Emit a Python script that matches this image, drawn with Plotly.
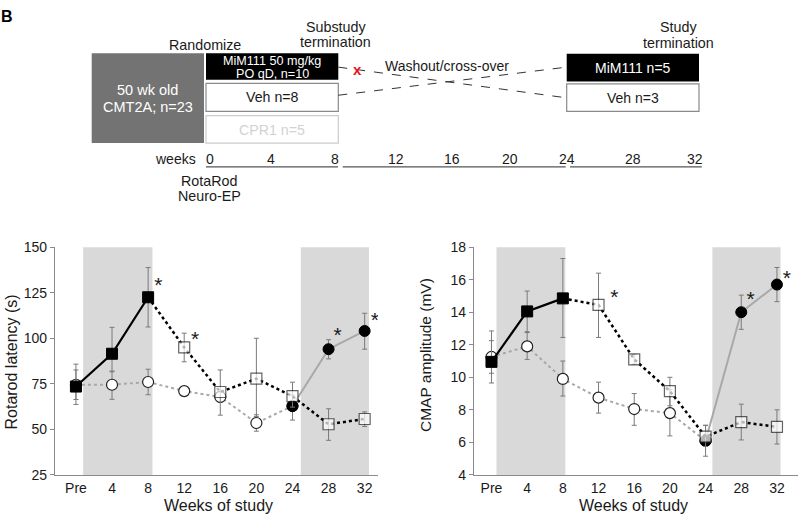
import plotly.graph_objects as go

# ---------------- data ----------------
weeks_labels = ["Pre", "4", "8", "12", "16", "20", "24", "28", "32"]
week_pos = list(range(len(weeks_labels)))

# Rotarod latency (s)
rr_mim_x = [0, 1, 2]
rr_mim_y = [73.5, 91.5, 122.5]
rr_mim_up = [12.3, 14.5, 16.3]
rr_mim_dn = [9.8, 9.9, 16.3]

rr_sq_x = [2, 3, 4, 5, 6, 7, 8]
rr_sq_y = [122.5, 95.0, 70.5, 77.8, 68.2, 52.8, 55.7]
rr_sq_up = [0, 7.8, 12.1, 22.2, 7.7, 8.5, 3.9]
rr_sq_dn = [0, 7.9, 12.7, 20.8, 6.0, 8.8, 4.1]

rr_circ_x = [0, 1, 2, 3, 4, 5, 6]
rr_circ_y = [74.5, 74.5, 76.0, 71.0, 67.8, 53.5, 62.8]
rr_circ_up = [8.1, 7.5, 7.0, 1.5, 3.0, 4.5, 6.0]
rr_circ_dn = [8.1, 8.0, 7.0, 1.5, 3.0, 4.5, 7.7]

rr_fill_x = [6, 7, 8]
rr_fill_y = [62.8, 94.0, 104.0]
rr_fill_up = [0, 5.2, 9.7]
rr_fill_dn = [0, 5.3, 10.0]

# CMAP amplitude (mV)
cm_mim_x = [0, 1, 2]
cm_mim_y = [10.95, 14.05, 14.85]
cm_mim_up = [1.9, 1.25, 2.45]
cm_mim_dn = [1.3, 1.3, 2.4]

cm_sq_x = [2, 3, 4, 5, 6, 7, 8]
cm_sq_y = [14.85, 14.45, 11.1, 9.15, 6.35, 7.25, 6.95]
cm_sq_up = [0, 1.95, 0.3, 0.85, 0.7, 1.1, 1.05]
cm_sq_dn = [0, 2.0, 0.3, 0.9, 0.6, 1.1, 1.05]

cm_circ_x = [0, 1, 2, 3, 4, 5, 6]
cm_circ_y = [11.25, 11.9, 9.9, 8.75, 8.05, 7.8, 6.1]
cm_circ_up = [1.0, 0.9, 1.1, 0.95, 0.95, 1.45, 0.95]
cm_circ_dn = [1.0, 0.8, 1.05, 0.95, 1.0, 1.4, 0.95]

cm_fill_x = [6, 7, 8]
cm_fill_y = [6.1, 14.0, 15.7]
cm_fill_up = [0, 1.05, 1.05]
cm_fill_dn = [0, 1.05, 1.05]

# significance markers (week index, value)
rr_star_x = [2.28, 3.3, 7.25, 8.28]
rr_star_y = [128.5, 98.5, 101.0, 109.0]
cm_star_x = [3.44, 7.26, 8.28]
cm_star_y = [14.85, 14.7, 16.0]

# dosing windows (week index ranges)
rr_shade = [(0.2, 2.12), (6.23, 8.12)]
cm_shade = [(0.14, 2.07), (6.19, 8.1)]

FONT = "Arial, Liberation Sans, sans-serif"
TXT = "#1a1a1a"
ERR = "#7a7a7a"
GRAYLINE = "#a8a8a8"
MS = 11

W, H = 800, 522


def X(px):
    return px / W


def Y(py):
    return 1 - py / H


fig = go.Figure()


def err(up, dn):
    return dict(type="data", symmetric=False, array=up, arrayminus=dn,
                color=ERR, thickness=1, width=2.5)


def add_panel(xa, ya, circ_x, circ_y, circ_up, circ_dn,
              fill_x, fill_y, fill_up, fill_dn,
              sq_x, sq_y, sq_up, sq_dn,
              mim_x, mim_y, mim_up, mim_dn):
    # vehicle (open circles, grey dotted); last point filled (cross-over start)
    fig.add_trace(go.Scatter(
        x=circ_x, y=circ_y, mode="lines+markers", xaxis=xa, yaxis=ya,
        line=dict(color=GRAYLINE, width=2, dash="dot"),
        marker=dict(symbol="circle", size=MS,
                    color=["white"] * (len(circ_x) - 1) + ["black"],
                    line=dict(color="#222", width=1.2)),
        error_y=err(circ_up, circ_dn), showlegend=False))
    # cross-over to MiM111 (filled circles, grey solid)
    fig.add_trace(go.Scatter(
        x=fill_x, y=fill_y, mode="lines+markers", xaxis=xa, yaxis=ya,
        line=dict(color=GRAYLINE, width=2),
        marker=dict(symbol="circle", size=MS, color="black",
                    line=dict(color="black", width=1)),
        error_y=err(fill_up, fill_dn), showlegend=False))
    # washout / vehicle (open squares, black dotted)
    fig.add_trace(go.Scatter(
        x=sq_x, y=sq_y, mode="lines+markers", xaxis=xa, yaxis=ya,
        line=dict(color="black", width=2.5, dash="dot"),
        marker=dict(symbol="square", size=[0] + [MS] * (len(sq_x) - 1),
                    color="white", line=dict(color="#222", width=1.2)),
        error_y=err(sq_up, sq_dn), showlegend=False))
    # MiM111 treatment (filled squares, black solid)
    fig.add_trace(go.Scatter(
        x=mim_x, y=mim_y, mode="lines+markers", xaxis=xa, yaxis=ya,
        line=dict(color="black", width=2.2),
        marker=dict(symbol="square", size=MS, color="black",
                    line=dict(color="black", width=1)),
        error_y=err(mim_up, mim_dn), showlegend=False))


add_panel("x", "y", rr_circ_x, rr_circ_y, rr_circ_up, rr_circ_dn,
          rr_fill_x, rr_fill_y, rr_fill_up, rr_fill_dn,
          rr_sq_x, rr_sq_y, rr_sq_up, rr_sq_dn,
          rr_mim_x, rr_mim_y, rr_mim_up, rr_mim_dn)
add_panel("x2", "y2", cm_circ_x, cm_circ_y, cm_circ_up, cm_circ_dn,
          cm_fill_x, cm_fill_y, cm_fill_up, cm_fill_dn,
          cm_sq_x, cm_sq_y, cm_sq_up, cm_sq_dn,
          cm_mim_x, cm_mim_y, cm_mim_up, cm_mim_dn)

# stars
fig.add_trace(go.Scatter(x=rr_star_x, y=rr_star_y, mode="text", text=["*"] * len(rr_star_x),
                         textfont=dict(size=21, color=TXT, family=FONT),
                         xaxis="x", yaxis="y", showlegend=False, hoverinfo="skip"))
fig.add_trace(go.Scatter(x=cm_star_x, y=cm_star_y, mode="text", text=["*"] * len(cm_star_x),
                         textfont=dict(size=21, color=TXT, family=FONT),
                         xaxis="x2", yaxis="y2", showlegend=False, hoverinfo="skip"))

shapes = []
for (a, b) in rr_shade:
    shapes.append(dict(type="rect", xref="x", yref="y domain", x0=a, x1=b, y0=0, y1=1,
                       fillcolor="#d9d9d9", line=dict(width=0), layer="below"))
for (a, b) in cm_shade:
    shapes.append(dict(type="rect", xref="x2", yref="y2 domain", x0=a, x1=b, y0=0, y1=1,
                       fillcolor="#d9d9d9", line=dict(width=0), layer="below"))


# ---------------- study design schematic ----------------
def rect(x0, y0, x1, y1, fill, line_color=None, lw=1):
    shapes.append(dict(type="rect", xref="paper", yref="paper",
                       x0=X(x0), x1=X(x1), y0=Y(y1), y1=Y(y0), fillcolor=fill,
                       line=dict(color=line_color or fill, width=lw if line_color else 0)))


def seg(x0, y0, x1, y1, color, dash="solid", lw=1):
    shapes.append(dict(type="line", xref="paper", yref="paper",
                       x0=X(x0), x1=X(x1), y0=Y(y0), y1=Y(y1),
                       line=dict(color=color, width=lw, dash=dash)))


rect(91.7, 46.7, 204, 139.3, "#737373")
rect(206, 46.7, 338.3, 74, "black")
rect(206, 77.7, 338.3, 106.7, "white", "#8a8a8a", 1.2)
rect(206, 111, 338.3, 139.3, "white", "#cccccc", 1.2)
rect(566.7, 47.3, 699, 75.7, "black")
rect(566.7, 78.3, 699, 106.7, "white", "#8a8a8a", 1.2)
seg(338.3, 61, 566.7, 92.7, "#333", "dash", 1)
seg(338.3, 90, 566.7, 61, "#333", "dash", 1)
seg(206, 164, 338, 164, "#555", lw=1.3)
seg(342.7, 164, 565.7, 164, "#555", lw=1.3)
seg(570, 164, 701.7, 164, "#555", lw=1.3)

annotations = []


def txt(x, y, s, size=14, color=TXT, xanchor="center", bold=False, angle=0):
    annotations.append(dict(x=X(x), y=Y(y), xref="paper", yref="paper", text=s,
                            showarrow=False, xanchor=xanchor, yanchor="middle",
                            textangle=angle,
                            font=dict(family=FONT, size=size, color=color,
                                      weight="bold" if bold else "normal")))


txt(7, 9, "B", size=16, color="black", bold=True)
txt(205, 38, "Randomize", 14.3)
txt(335.5, 20, "Substudy", 14.3)
txt(335.5, 35.5, "termination", 14.3)
txt(678.3, 20, "Study", 14.3)
txt(678.3, 35.7, "termination", 14.3)
txt(147.8, 85, "50 wk old", 14.5, color="white")
txt(147.8, 101.7, "CMT2A; n=23", 14.5, color="white")
txt(272, 54.3, "MiM111 50 mg/kg", 12.6, color="white")
txt(272, 68.3, "PO qD, n=10", 12.6, color="white")
txt(272, 92, "Veh n=8", 14.2)
txt(272, 125.5, "CPR1 n=5", 14.2, color="#d2d2d2")
txt(357.3, 63, "x", 15, color="#e8141c", bold=True)
txt(447.5, 60, "Washout/cross-over", 14)
txt(633, 62, "MiM111 n=5", 14, color="white")
txt(633, 93, "Veh n=3", 14)
txt(198, 156, "weeks", 14, xanchor="right")
for lab, px in zip(["0", "4", "8", "12", "16", "20", "24", "28", "32"],
                   [210, 270.7, 335, 396, 451.7, 510, 566.7, 633.3, 695]):
    txt(px, 156, lab, 14)
txt(209, 178, "RotaRod", 14.3)
txt(209, 193.5, "Neuro-EP", 14.3)

# axis titles
txt(11.7, 365, "Rotarod latency (s)", 16, angle=-90)
txt(425, 358, "CMAP amplitude (mV)", 15.5, angle=-90)
txt(218.3, 513.3, "Weeks of study", 16)
txt(633.3, 513.3, "Weeks of study", 16)

ydom = [Y(481.7), Y(246.7)]
xcommon = dict(tickvals=week_pos, ticktext=weeks_labels, showline=True, linecolor="#8a8a8a",
               linewidth=1.2, ticks="", showgrid=False, zeroline=False,
               tickfont=dict(family=FONT, size=14, color=TXT), fixedrange=True)
ycommon = dict(showline=True, linecolor="#8a8a8a", linewidth=1.2, ticks="outside",
               ticklen=4, tickcolor="#8a8a8a", showgrid=False, zeroline=False,
               tickfont=dict(family=FONT, size=14, color=TXT), domain=ydom)

fig.update_layout(
    width=W, height=H, margin=dict(l=0, r=0, t=0, b=0),
    paper_bgcolor="white", plot_bgcolor="white", showlegend=False,
    xaxis=dict(domain=[X(55), X(378)], range=[-0.58, 8.37], anchor="y", **xcommon),
    yaxis=dict(range=[25, 150], tickvals=[25, 50, 75, 100, 125, 150], anchor="x", **ycommon),
    xaxis2=dict(domain=[X(474), X(798)], range=[-0.49, 8.59], anchor="y2", **xcommon),
    yaxis2=dict(range=[4, 18], tickvals=[4, 6, 8, 10, 12, 14, 16, 18], anchor="x2", **ycommon),
    shapes=shapes, annotations=annotations,
)

fig.write_html(
    "out.html",
    config={"displayModeBar": False},
    post_script="document.body.style.margin='0px';document.body.style.overflow='hidden';",
)
